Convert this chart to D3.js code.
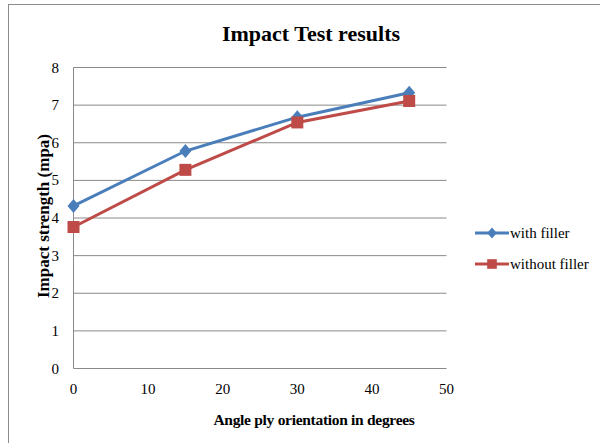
<!DOCTYPE html>
<html><head><meta charset="utf-8">
<script src="https://cdn.jsdelivr.net/npm/d3@7"></script>
<style>body{margin:0;background:#fff}svg{display:block}</style>
</head><body><svg id="c" width="600" height="443" font-family="'Liberation Serif','Times New Roman',serif"></svg>
<script>
const angles=[0,15,30,45];
const withFiller=[4.32,5.78,6.68,7.33];
const withoutFiller=[3.76,5.28,6.54,7.11];
const xTicks=[0,10,20,30,40,50];
const yTicks=[0,1,2,3,4,5,6,7,8];
const svg=d3.select("#c");
svg.append("rect").attr("x",8.5).attr("y",4.5).attr("width",600).attr("height",450).attr("fill","#fff").attr("stroke","#8c8c8c");
const x=d3.scaleLinear().domain([0,50]).range([73.5,446.5]);
const y=d3.scaleLinear().domain([0,8]).range([368.5,67.5]);
svg.append("g").selectAll("line").data(yTicks).join("line")
 .attr("x1",x(0)).attr("x2",x(50)).attr("y1",d=>y(d)).attr("y2",d=>y(d)).attr("stroke","#8a8a8a").attr("stroke-width",1);
svg.append("line").attr("x1",x(0)).attr("x2",x(0)).attr("y1",y(0)).attr("y2",y(8)).attr("stroke","#8a8a8a");
svg.append("g").selectAll("text").data(yTicks).join("text")
 .attr("x",59).attr("y",d=>y(d)+5).attr("text-anchor","end").attr("font-size",15).text(d=>d);
svg.append("g").selectAll("text").data(xTicks).join("text")
 .attr("x",d=>x(d)).attr("y",394).attr("text-anchor","middle").attr("font-size",15).text(d=>d);
svg.append("text").attr("x",311).attr("y",41).attr("text-anchor","middle").attr("font-size",22).attr("font-weight","bold").text("Impact Test results");
svg.append("text").attr("x",314).attr("y",425).attr("text-anchor","middle").attr("font-size",15.5).attr("font-weight","bold").attr("letter-spacing",-0.3).text("Angle ply orientation in degrees");
svg.append("text").attr("transform","translate(49,216) rotate(-90)").attr("text-anchor","middle").attr("font-size",17).attr("font-weight","bold").text("Impact strength (mpa)");
const series=[{v:withFiller,c:"#4a7ebb",m:"d",name:"with filler"},{v:withoutFiller,c:"#be4b48",m:"s",name:"without filler"}];
const line=d3.line().x(d=>x(d[0])).y(d=>y(d[1]));
function marker(g,m,c,s){
 if(m==="d") g.append("path").attr("d",`M0,${-7*s}L${6*s},0L0,${7*s}L${-6*s},0Z`).attr("fill",c);
 else g.append("rect").attr("x",-6*s).attr("y",-6*s).attr("width",12*s).attr("height",12*s).attr("fill",c);
}
series.forEach(s=>{
 const pts=angles.map((a,i)=>[a,s.v[i]]);
 svg.append("path").attr("d",line(pts)).attr("fill","none").attr("stroke",s.c).attr("stroke-width",3);
 pts.forEach(p=>{const g=svg.append("g").attr("transform",`translate(${x(p[0])},${y(p[1])})`);marker(g,s.m,s.c,1);});
});
series.forEach((s,i)=>{
 const ly=233+i*31;
 svg.append("line").attr("x1",475).attr("x2",509).attr("y1",ly).attr("y2",ly).attr("stroke",s.c).attr("stroke-width",3);
 const g=svg.append("g").attr("transform",`translate(492,${ly})`);
 marker(g,s.m,s.c,0.8);
 svg.append("text").attr("x",510).attr("y",ly+5).attr("font-size",15).text(s.name);
});
</script></body></html>
